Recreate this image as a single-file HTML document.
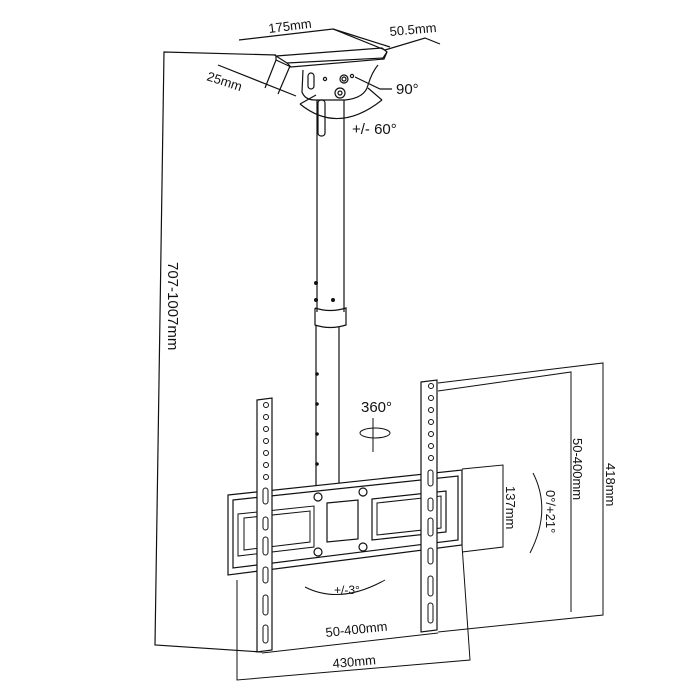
<!DOCTYPE html>
<html><head><meta charset="utf-8"><style>
html,body{margin:0;padding:0;background:#fff;}
svg{display:block;}
text{font-family:"Liberation Sans",sans-serif;fill:#111;}
</style></head><body>
<svg width="700" height="700" viewBox="0 0 700 700" xmlns="http://www.w3.org/2000/svg">
<g fill="none" stroke="#111" stroke-width="1.2">
<polyline points="276,55 164,52 155,645 262,652"/>
<polygon points="276,56 382,48 387,52 383,58 287,63" fill="#fff"/>
<polyline points="287,63 291,67 384,59 387,52"/>
<line x1="276" y1="56" x2="276" y2="60"/><line x1="276" y1="60" x2="291" y2="67"/>
<polyline points="239,40 333,29 385,50"/>
<line x1="333" y1="29" x2="390" y2="47"/>
<polyline points="385,50 425,38 440,44"/>
<line x1="218" y1="65" x2="296" y2="96"/>
<line x1="276" y1="60" x2="265" y2="88"/>
<line x1="290" y1="66" x2="278" y2="94"/>
<path d="M303,70 L302,92 Q305,100 315,100 L345,100 Q365,98 368,85 Q372,72 378,65" fill="#fff"/>
<circle cx="344" cy="79" r="4"/><circle cx="344" cy="79" r="2"/>
<circle cx="340" cy="93" r="5"/><circle cx="340" cy="93" r="2"/>
<circle cx="325" cy="79" r="1.6"/><circle cx="352" cy="76" r="1.6"/>
<rect x="308" y="73" width="6" height="16" rx="3"/>
<polyline points="355,77 380,89 392,89"/>
<path d="M300,104 Q338,135 382,100"/>
<line x1="300" y1="104" x2="316" y2="95"/><line x1="382" y1="100" x2="368" y2="88"/>
<line x1="317" y1="100" x2="317" y2="312"/>
<line x1="344" y1="100" x2="344" y2="312"/>
<rect x="318" y="100" width="7" height="36" rx="3"/>
<path d="M315,308 L315,325 Q330,330 346,325 L346,308 Q330,313 315,308"/>
<line x1="316" y1="325" x2="316" y2="490"/>
<line x1="339" y1="327" x2="339" y2="485"/>
<polygon points="228,495 462,470 462,545 228,575" fill="#fff"/>
<polygon points="233,500 458,476 458,540 233,568"/>
<path d="M238,514 L314,506 L314,547 L238,556 Z" stroke-width="1"/>
<path d="M244,518 L310,511 L310,542 L244,550 Z" stroke-width="1"/>
<path d="M327,503 L358,500 L358,539 L327,542 Z"/>
<path d="M372,499 L446,491 L446,532 L372,540 Z"/>
<path d="M377,503 L441,496 L441,528 L377,535 Z" stroke-width="1"/>
<circle cx="318" cy="497" r="4"/><circle cx="363" cy="492" r="4"/>
<circle cx="318" cy="552" r="4"/><circle cx="363" cy="547" r="4"/>
<polygon points="257,400 272,398 272,650 257,652" fill="#fff"/>
<polygon points="421,382 437,380 437,630 421,632" fill="#fff"/>
</g>
<g fill="#111">
<circle cx="316" cy="283" r="2"/><circle cx="316" cy="300" r="2"/><circle cx="333" cy="300" r="2"/>
<circle cx="317" cy="374" r="1.8"/><circle cx="317" cy="404" r="1.8"/><circle cx="317" cy="434" r="1.8"/><circle cx="317" cy="464" r="1.8"/>
</g>
<g fill="none" stroke="#111" stroke-width="1">
<circle cx="266" cy="405" r="2.5"/><circle cx="266" cy="417" r="2.5"/><circle cx="266" cy="429" r="2.5"/><circle cx="266" cy="441" r="2.5"/><circle cx="266" cy="453" r="2.5"/><circle cx="266" cy="465" r="2.5"/><circle cx="266" cy="477" r="2.5"/>
<rect x="263" y="488" width="5" height="16" rx="2.5"/><rect x="263" y="517" width="5" height="13" rx="2.5"/><rect x="263" y="537" width="5" height="18" rx="2.5"/><rect x="263" y="567" width="5" height="16" rx="2.5"/><rect x="263" y="595" width="5" height="20" rx="2.5"/><rect x="263" y="625" width="5" height="18" rx="2.5"/>
<circle cx="431" cy="386" r="2.5"/><circle cx="431" cy="398" r="2.5"/><circle cx="431" cy="410" r="2.5"/><circle cx="431" cy="422" r="2.5"/><circle cx="431" cy="434" r="2.5"/><circle cx="431" cy="446" r="2.5"/><circle cx="431" cy="458" r="2.5"/>
<rect x="428" y="470" width="5" height="16" rx="2.5"/><rect x="428" y="498" width="5" height="13" rx="2.5"/><rect x="428" y="518" width="5" height="18" rx="2.5"/><rect x="428" y="548" width="5" height="16" rx="2.5"/><rect x="428" y="576" width="5" height="20" rx="2.5"/><rect x="428" y="603" width="5" height="20" rx="2.5"/>
</g>
<g fill="none" stroke="#111" stroke-width="1">
<polyline points="438,383 603,363 603,615 438,632"/>
<polyline points="438,391 571,372 571,612"/>
<polyline points="462,469 503,465 503,547 462,552"/>
<path d="M533,473 Q552,510 530,553"/>
<line x1="262" y1="653" x2="438" y2="633"/>
<polyline points="237,580 237,680 470,660 462,545"/>
<path d="M305,587 Q340,605 385,580"/>
<line x1="373" y1="418" x2="373" y2="452"/>
<ellipse cx="375" cy="433" rx="15" ry="5"/>
</g>
<g font-size="13">
<text x="269" y="33" transform="rotate(-7 269 33)">175mm</text>
<text x="390" y="36" transform="rotate(-5 390 36)">50.5mm</text>
<text x="206" y="80" transform="rotate(18 206 80)">25mm</text>
<text x="396" y="94" font-size="15">90°</text>
<text x="352" y="134" font-size="15">+/- 60°</text>
<text x="361" y="412" font-size="15">360°</text>
<text x="334" y="594" font-size="12">+/-3°</text>
<text x="326" y="637" transform="rotate(-6 326 637)">50-400mm</text>
<text x="333" y="668" transform="rotate(-5 333 668)">430mm</text>
<text x="168" y="262" font-size="15" transform="rotate(90 168 262)">707-1007mm</text>
<text x="506" y="486" transform="rotate(90 506 486)">137mm</text>
<text x="546" y="490" transform="rotate(90 546 490)">0°/+21°</text>
<text x="573" y="438" transform="rotate(90 573 438)">50-400mm</text>
<text x="606" y="463" transform="rotate(90 606 463)">418mm</text>
</g>
</svg>
</body></html>
